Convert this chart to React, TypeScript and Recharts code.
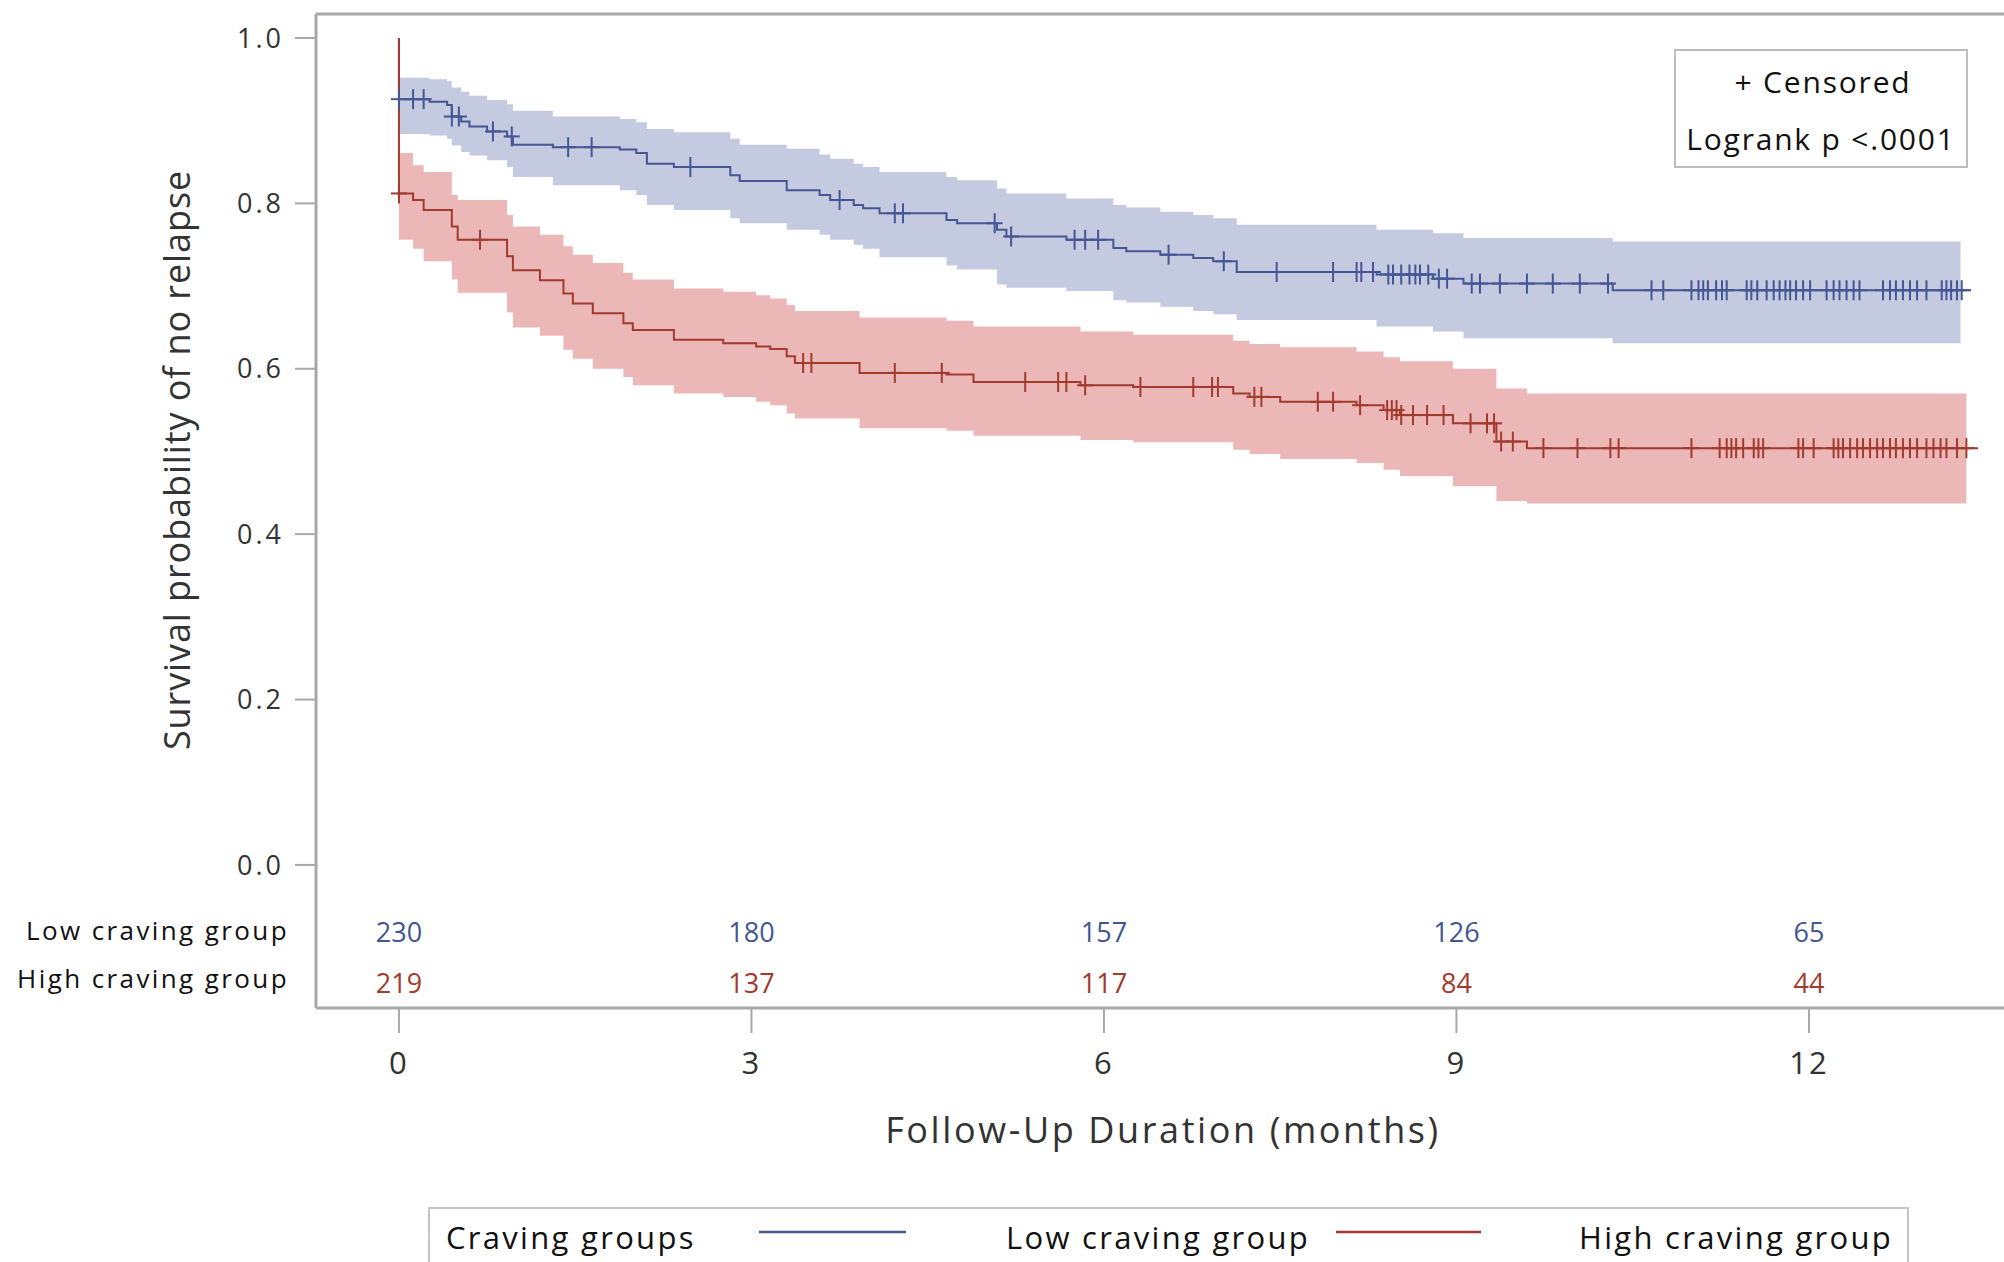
import React from "react"
import { ComposedChart, Area, Line, Scatter, XAxis, YAxis, ReferenceLine } from "recharts"

const FONT = "'Open Sans', 'Noto Sans', sans-serif"
const BLUE = "#445694"
const RED = "#a23a2e"
const BLUE_BAND = "#c4cae0"
const RED_BAND = "#ebb7b7"
const FRAME = "#a8a8a8"
const INK = "#333333"

// Low craving group: KM step times (months), survival and CI limits
const lowTimes = [0, 0.26, 0.41, 0.45, 0.53, 0.6, 0.75, 0.92, 0.97, 1.31, 1.88, 2.02, 2.11, 2.34, 2.82, 2.9, 3.3, 3.58, 3.67, 3.87, 3.95, 4.09, 4.66, 4.75, 5.09, 5.17, 5.68, 6.08, 6.19, 6.48, 6.76, 6.93, 7.13, 8.32, 8.8, 9.06, 10.33]
const lowSurvival = [0.926, 0.923, 0.919, 0.905, 0.899, 0.893, 0.887, 0.881, 0.871, 0.868, 0.865, 0.861, 0.848, 0.844, 0.834, 0.827, 0.816, 0.81, 0.804, 0.798, 0.794, 0.788, 0.78, 0.776, 0.768, 0.76, 0.756, 0.746, 0.742, 0.738, 0.734, 0.73, 0.717, 0.714, 0.709, 0.703, 0.695]
const lowUpper = [0.952, 0.95, 0.948, 0.94, 0.935, 0.93, 0.925, 0.92, 0.912, 0.905, 0.902, 0.898, 0.89, 0.886, 0.878, 0.871, 0.866, 0.859, 0.854, 0.848, 0.844, 0.838, 0.832, 0.828, 0.818, 0.812, 0.806, 0.798, 0.795, 0.79, 0.786, 0.782, 0.774, 0.768, 0.764, 0.758, 0.754]
const lowLower = [0.884, 0.882, 0.878, 0.87, 0.862, 0.858, 0.852, 0.844, 0.832, 0.822, 0.816, 0.81, 0.798, 0.792, 0.782, 0.776, 0.768, 0.762, 0.756, 0.75, 0.745, 0.735, 0.725, 0.72, 0.702, 0.698, 0.694, 0.683, 0.68, 0.675, 0.67, 0.666, 0.659, 0.651, 0.645, 0.637, 0.631]
const lowCensored = [0, 0.12, 0.21, 0.45, 0.51, 0.8, 0.96, 1.44, 1.64, 2.48, 3.75, 4.22, 4.29, 5.07, 5.21, 5.75, 5.84, 5.95, 6.55, 7.02, 7.47, 7.95, 8.15, 8.19, 8.29, 8.42, 8.46, 8.53, 8.6, 8.65, 8.69, 8.76, 8.85, 8.92, 9.13, 9.2, 9.37, 9.6, 9.82, 10.05, 10.29, 10.66, 10.76, 11.0, 11.06, 11.1, 11.14, 11.21, 11.26, 11.3, 11.47, 11.51, 11.56, 11.64, 11.7, 11.75, 11.8, 11.84, 11.89, 11.95, 12.01, 12.15, 12.21, 12.26, 12.32, 12.38, 12.43, 12.63, 12.69, 12.74, 12.8, 12.86, 12.92, 13.0, 13.13, 13.17, 13.21, 13.26, 13.3]
const lowLineEnd = 13.38
const lowBandEnd = 13.29

// High craving group
const highTimes = [0, 0.12, 0.21, 0.45, 0.5, 0.92, 0.97, 1.2, 1.4, 1.48, 1.65, 1.91, 1.99, 2.34, 2.76, 3.04, 3.16, 3.3, 3.37, 3.92, 4.66, 4.89, 5.8, 6.25, 7.1, 7.24, 7.5, 8.15, 8.38, 8.52, 8.97, 9.34, 9.6]
const highSurvival = [0.812, 0.804, 0.792, 0.772, 0.756, 0.736, 0.719, 0.707, 0.691, 0.679, 0.667, 0.655, 0.647, 0.635, 0.631, 0.627, 0.624, 0.615, 0.607, 0.595, 0.593, 0.584, 0.58, 0.578, 0.57, 0.566, 0.56, 0.556, 0.55, 0.544, 0.534, 0.512, 0.504]
const highUpper = [0.861, 0.846, 0.838, 0.81, 0.804, 0.786, 0.772, 0.762, 0.748, 0.738, 0.728, 0.716, 0.708, 0.697, 0.693, 0.689, 0.685, 0.677, 0.67, 0.662, 0.658, 0.651, 0.645, 0.641, 0.634, 0.63, 0.626, 0.621, 0.614, 0.609, 0.6, 0.576, 0.57]
const highLower = [0.756, 0.745, 0.73, 0.708, 0.692, 0.668, 0.65, 0.64, 0.623, 0.612, 0.6, 0.59, 0.58, 0.57, 0.566, 0.56, 0.556, 0.546, 0.54, 0.528, 0.525, 0.519, 0.514, 0.511, 0.502, 0.497, 0.491, 0.486, 0.478, 0.47, 0.458, 0.44, 0.437]
const highCensored = [0, 0.69, 3.44, 3.51, 4.22, 4.62, 5.33, 5.61, 5.68, 5.84, 6.31, 6.76, 6.92, 6.97, 7.28, 7.34, 7.82, 7.95, 8.18, 8.41, 8.45, 8.49, 8.53, 8.63, 8.75, 8.89, 9.12, 9.26, 9.32, 9.38, 9.48, 9.74, 10.03, 10.31, 10.38, 11.0, 11.24, 11.3, 11.34, 11.38, 11.44, 11.53, 11.57, 11.61, 11.91, 11.95, 12.04, 12.21, 12.25, 12.29, 12.35, 12.41, 12.46, 12.52, 12.58, 12.63, 12.69, 12.74, 12.8, 12.86, 12.92, 13.0, 13.06, 13.12, 13.17, 13.26, 13.34]
const highLineEnd = 13.44
const highBandEnd = 13.34

// axes and number-at-risk table
const xTicks = [0, 3, 6, 9, 12]
const yTicks = [0, 0.2, 0.4, 0.6, 0.8, 1.0]
const riskTimes = [0, 3, 6, 9, 12]
const lowAtRisk = [230, 180, 157, 126, 65]
const highAtRisk = [219, 137, 117, 84, 44]

const X_DOMAIN: [number, number] = [-0.706, 13.66]
const Y_DOMAIN: [number, number] = [-0.173, 1.029]
const LOW_ROW = -0.082
const HIGH_ROW = -0.143

function curve(times: number[], surv: number[], end: number) {
  const pts = [{ t: 0, s: 1 }]
  times.forEach((t, i) => pts.push({ t, s: surv[i] }))
  pts.push({ t: end, s: surv[surv.length - 1] })
  return pts
}

function band(times: number[], lo: number[], hi: number[], end: number) {
  const pts = times.map((t, i) => ({ t, range: [lo[i], hi[i]] }))
  pts.push({ t: end, range: [lo[lo.length - 1], hi[hi.length - 1]] })
  return pts
}

// survival value at each censoring time (last step at or before it)
function censorPoints(times: number[], surv: number[], marks: number[]) {
  return marks.map((m) => {
    let s = surv[0]
    times.forEach((t, i) => {
      if (t <= m) s = surv[i]
    })
    return { t: m, s }
  })
}

function riskRow(counts: number[], row: number) {
  return riskTimes.map((t, i) => ({ t, r: row, n: counts[i] }))
}

const plus = (color: string) => (props: any) => {
  const { cx, cy } = props
  if (cx == null || cy == null) return <g />
  return (
    <g stroke={color} strokeWidth={2}>
      <line x1={cx - 8} x2={cx + 8} y1={cy} y2={cy} />
      <line x1={cx} x2={cx} y1={cy - 10} y2={cy + 10} />
    </g>
  )
}

const riskText = (color: string) => (props: any) => {
  const { cx, cy, payload } = props
  return (
    <text x={cx} y={cy} dy="0.36em" textAnchor="middle" fill={color} fontSize={27} fontFamily={FONT}>
      {payload.n}
    </text>
  )
}

export default function App() {
  const lowCurve = curve(lowTimes, lowSurvival, lowLineEnd)
  const highCurve = curve(highTimes, highSurvival, highLineEnd)
  const lowBand = band(lowTimes, lowLower, lowUpper, lowBandEnd)
  const highBand = band(highTimes, highLower, highUpper, highBandEnd)

  return (
    <div style={{ position: "absolute", left: 0, top: 0, width: 2004, height: 1262, background: "#fff", fontFamily: FONT }}>
      <ComposedChart width={2004} height={1262} margin={{ top: 14, right: 0, bottom: 0, left: 0 }}>
        <XAxis
          type="number"
          dataKey="t"
          domain={X_DOMAIN}
          ticks={xTicks}
          allowDataOverflow
          height={254}
          tickSize={25}
          tickMargin={19}
          axisLine={{ stroke: FRAME, strokeWidth: 3 }}
          tickLine={{ stroke: FRAME, strokeWidth: 2 }}
          tick={{ fill: INK, fontSize: 31, fontFamily: FONT, letterSpacing: 2 }}
        />
        <YAxis
          type="number"
          domain={Y_DOMAIN}
          ticks={yTicks}
          allowDataOverflow
          width={316}
          tickSize={21}
          tickMargin={11}
          tickFormatter={(v: number) => v.toFixed(1)}
          axisLine={{ stroke: FRAME, strokeWidth: 3 }}
          tickLine={{ stroke: FRAME, strokeWidth: 2 }}
          tick={{ fill: INK, fontSize: 27, fontFamily: FONT, letterSpacing: 3 }}
        />
        <ReferenceLine y={Y_DOMAIN[1]} stroke={FRAME} strokeWidth={3} />

        <Area data={lowBand} dataKey="range" type="stepAfter" fill={BLUE_BAND} fillOpacity={1} stroke="none" isAnimationActive={false} />
        <Area data={highBand} dataKey="range" type="stepAfter" fill={RED_BAND} fillOpacity={1} stroke="none" isAnimationActive={false} />

        <Line data={lowCurve} dataKey="s" type="stepAfter" stroke={BLUE} strokeWidth={2} dot={false} isAnimationActive={false} />
        <Line data={highCurve} dataKey="s" type="stepAfter" stroke={RED} strokeWidth={2} dot={false} isAnimationActive={false} />

        <Scatter data={censorPoints(lowTimes, lowSurvival, lowCensored)} dataKey="s" shape={plus(BLUE)} isAnimationActive={false} />
        <Scatter data={censorPoints(highTimes, highSurvival, highCensored)} dataKey="s" shape={plus(RED)} isAnimationActive={false} />

        <Scatter data={riskRow(lowAtRisk, LOW_ROW)} dataKey="r" shape={riskText(BLUE)} isAnimationActive={false} />
        <Scatter data={riskRow(highAtRisk, HIGH_ROW)} dataKey="r" shape={riskText(RED)} isAnimationActive={false} />
      </ComposedChart>

      <svg width={2004} height={1262} style={{ position: "absolute", left: 0, top: 0, pointerEvents: "none" }} fontFamily={FONT}>
        <text transform="translate(176,460) rotate(-90)" textAnchor="middle" dominantBaseline="central" fontSize={36} letterSpacing={0.9} fill={INK}>
          Survival probability of no relapse
        </text>
        <text x={1163} y={1143} textAnchor="middle" fontSize={36} letterSpacing={2.6} fill={INK}>
          Follow-Up Duration (months)
        </text>

        <text x={289} y={940} textAnchor="end" fontSize={26} letterSpacing={2.4} fill="#111">Low craving group</text>
        <text x={289} y={988} textAnchor="end" fontSize={26} letterSpacing={2.4} fill="#111">High craving group</text>

        <rect x={1675} y={50} width={292} height={117} fill="#fff" stroke="#bdbdbd" strokeWidth={2} />
        <text x={1823} y={93} textAnchor="middle" fontSize={30} letterSpacing={1.8} fill="#111">+ Censored</text>
        <text x={1821} y={150} textAnchor="middle" fontSize={30} letterSpacing={1.8} fill="#111">Logrank p &lt;.0001</text>

        <rect x={429} y={1208} width={1479} height={80} fill="#fff" stroke="#c4c4c4" strokeWidth={2} />
        <text x={446} y={1249} fontSize={31} letterSpacing={2.3} fill="#111">Craving groups</text>
        <line x1={759} x2={906} y1={1232} y2={1232} stroke={BLUE} strokeWidth={2.5} />
        <text x={1006} y={1249} fontSize={31} letterSpacing={2.3} fill="#111">Low craving group</text>
        <line x1={1336} x2={1481} y1={1232} y2={1232} stroke={RED} strokeWidth={2.5} />
        <text x={1579} y={1249} fontSize={31} letterSpacing={2.3} fill="#111">High craving group</text>
      </svg>
    </div>
  )
}
